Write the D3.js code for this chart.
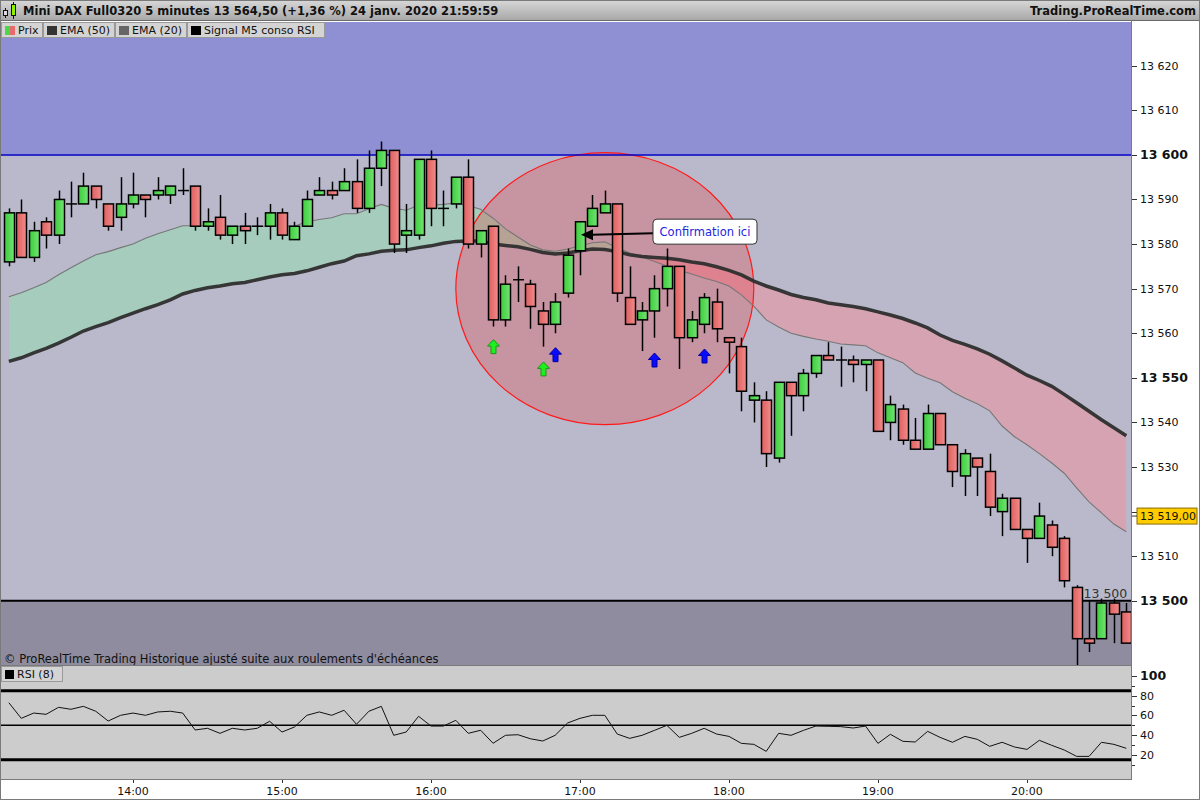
<!DOCTYPE html>
<html>
<head>
<meta charset="utf-8">
<script src="https://cdn.jsdelivr.net/npm/d3@7"></script>
<style>
  body { margin: 0; background: #fff; }
  svg { display: block; font-family: "DejaVu Sans", Verdana, sans-serif; }
</style>
</head>
<body>
<div id="chart"></div>
<script>
// ---- data ----
const startTime = new Date(2020, 0, 24, 13, 10); // first 5-minute candle

const openP = [13576,13587,13577,13585,13582,13589,13589,13593,13589,13586,
  13589,13591,13591,13591,13592,13593,13584,13586,13582,13584,
  13584,13584,13587,13581,13584,13591,13592,13592,13594,13588,
  13597,13601,13582,13582,13599,13588,13589,13595,13580,13584,
  13563,13572,13571,13565,13562,13569,13578.5,13584,13587,13589,
  13568,13563,13565,13570,13575,13559,13562,13567,13559,13557,
  13545,13545,13532,13549,13546,13551,13555,13554,13554,13553,
  13554,13540,13543,13536,13534,13542,13535,13528,13532,13529,
  13520,13523,13516,13514,13517,13514,13503,13491.5,13491.5,13499.5,
  13497.5];
const highP = [13588,13590,13585,13586,13592,13594,13596,13593,13589,13595,
  13596,13591,13595,13593,13597,13593,13588,13591,13584,13587,
  13586,13589,13588,13585,13592,13595,13594,13597,13599,13601,
  13603,13601,13589,13599,13601,13592,13595,13599,13583,13584,
  13573,13575,13572,13567,13569,13579,13585,13591,13592,13589,
  13575,13567,13573,13579,13575,13565,13569,13570,13559,13559,
  13549,13547,13549,13549,13552,13555,13558,13557,13555,13554,
  13554,13546,13544,13541,13544,13542,13535,13534,13532,13533,
  13524,13523,13516,13522,13518,13514.5,13503.5,13500,13500.5,13500.5,
  13499.5];
const lowP = [13575,13577,13576,13579,13580,13586,13589,13588,13583,13583,
  13588,13586,13590,13589,13591,13583,13583,13581,13580,13580,
  13582,13581,13581,13581,13584,13591,13590,13592,13587,13587,
  13593,13578,13578,13581,13584,13584,13588,13579,13577,13561.5,
  13561.5,13567,13561,13557,13560,13568,13573,13584,13587,13567,
  13562,13556,13559,13566,13552,13558,13560,13558,13551,13542.5,
  13540,13530,13531,13537,13542.5,13550,13554,13548,13549,13547,
  13538,13536,13535,13534,13534,13535,13525.5,13523.5,13523.5,13519,
  13514.5,13516,13508.5,13514,13510,13503,13485,13488.5,13491.5,13490.5,
  13490.5];
const closeP = [13587,13577,13583,13582,13590,13589,13593,13590,13584,13589,
  13591,13590,13592,13593,13592,13584,13585,13582,13584,13583,
  13584,13587,13582,13584,13590,13592,13591,13594,13588,13597,
  13601,13580,13583,13599,13588,13588,13595,13580,13583,13563,
  13571,13572,13566,13562,13567,13577.5,13585,13588,13589,13569,
  13562,13565,13570,13575,13559,13563,13568,13561,13558,13547,
  13546,13533,13549,13546,13551,13555,13554,13554,13553,13554,
  13538,13544,13536,13534,13542,13535,13529,13533,13530,13521,
  13523,13516,13514,13519,13512,13504.5,13491.5,13490.5,13499.5,13497,
  13490.5];

const ema50 = [13553.7,13554.5,13555.6,13556.6,13557.8,13559.1,13560.5,13561.5,13562.4,13563.5,
  13564.5,13565.5,13566.4,13567.5,13568.8,13569.6,13570.2,13570.6,13571.1,13571.4,
  13572.0,13572.6,13573.1,13573.4,13574.0,13574.8,13575.6,13576.2,13577.4,13577.8,
  13578.4,13578.6,13578.7,13579.2,13579.6,13580.2,13580.6,13580.7,13580.7,13580.0,
  13579.7,13579.4,13578.8,13578.1,13577.8,13578.0,13578.5,13578.9,13578.8,13578.3,
  13577.6,13577.2,13577.0,13576.8,13576.5,13576.0,13575.6,13574.9,13574.1,13573.1,
  13571.7,13570.6,13569.7,13568.7,13568.0,13567.5,13566.8,13566.4,13566.0,13565.5,
  13564.8,13564.1,13563.3,13562.3,13561.2,13559.6,13558.4,13557.5,13556.5,13555.3,
  13553.8,13552.2,13550.6,13549.4,13548.1,13546.3,13544.4,13542.5,13540.6,13538.8,
  13537.0];
const ema20 = [13568.2,13569.1,13570.2,13571.4,13573.1,13574.7,13576.2,13577.6,13578.3,13579.2,
  13580.0,13581.3,13582.3,13583.2,13584.1,13584.1,13584.1,13584.0,13584.0,13584.0,
  13584.0,13584.0,13584.1,13584.0,13585.0,13585.5,13585.9,13586.8,13586.8,13587.9,
  13588.9,13588.0,13587.6,13588.7,13588.7,13588.9,13589.2,13588.6,13587.8,13585.8,
  13583.4,13581.6,13579.8,13578.7,13578.4,13578.9,13579.6,13580.3,13580.5,13579.2,
  13578.0,13577.1,13576.1,13575.1,13574.1,13573.3,13572.4,13571.6,13570.6,13568.6,
  13566.1,13563.0,13561.4,13560.0,13559.3,13558.7,13558.2,13557.6,13557.4,13557.2,
  13555.6,13554.5,13553.4,13551.1,13549.9,13548.9,13546.9,13545.4,13544.2,13542.6,
  13539.2,13536.8,13535.0,13533.0,13530.9,13528.6,13525.3,13522.2,13519.7,13517.2,
  13515.5];
const rsi8 = [72.9,57.0,62.4,61.1,68.2,66.2,69.2,64.2,54.3,60.1,
  62.4,60.1,63.5,64.2,62.4,45.2,46.9,41.8,46.9,45.2,
  46.9,54.0,43.1,48.2,60.1,63.5,60.1,65.2,51.0,64.2,
  69.2,39.8,43.1,59.1,49.2,49.2,55.0,41.8,44.9,31.7,
  39.8,40.4,36.3,34.0,39.8,52.3,57.0,60.1,60.1,41.1,
  36.7,39.8,44.8,49.9,37.7,41.8,46.9,41.1,38.7,31.6,
  30.6,23.5,41.8,39.8,44.8,49.2,48.9,48.6,47.2,49.2,
  31.6,40.8,33.7,33.0,43.8,37.7,32.7,38.7,35.7,28.6,
  32.7,27.9,25.5,34.7,29.6,24.9,18.4,18.4,32.7,30.6,
  26.6];

// "Signal M5 conso RSI" arrows: candle index, colour, level
const signalIdx = [39, 43, 44, 52, 56];
const signalColor = ["green", "green", "blue", "blue", "blue"];
const signalLevel = [13557, 13552, 13555.2, 13554, 13554.9];

const priceTicks = [13500,13510,13520,13530,13540,13550,13560,13570,13580,13590,13600,13610,13620];
const priceMajor = [13500, 13550, 13600];
const rsiTicks = [20, 40, 60, 80, 100];
const rsiMinor = [10, 30, 50, 70, 90];
const rsiBands = [85, 50, 15];
const hourTicks = [14, 15, 16, 17, 18, 19, 20];

const upperLevel = 13600, lowerLevel = 13500;
const lastQuote = 13519;

const titleText = "Mini DAX Full0320 5 minutes 13 564,50 (+1,36 %) 24 janv. 2020 21:59:59";
const legendItems = ["Prix", "EMA (50)", "EMA (20)", "Signal M5 conso RSI"];

// ---- layout ----
const W = 1200, H = 800;
const plotW = 1131;
const priceTop = 22, priceBottom = 665;
const rsiTop = 666, rsiBottom = 779;

const times = openP.map((d, i) => d3.timeMinute.offset(startTime, 5 * i));
const candles = times.map((t, i) => ({ t, o: openP[i], h: highP[i], l: lowP[i], c: closeP[i] }));

const x = d3.scaleTime()
  .domain([new Date(2020, 0, 24, 13, 6, 26), new Date(2020, 0, 24, 20, 41, 54)])
  .range([0, plotW]);
const y = d3.scaleLinear().domain([13485.6, 13629.8]).range([priceBottom, priceTop]);
const yr = d3.scaleLinear().domain([0, 100]).range([774.5, 676]);

const fr = d3.formatLocale({ decimal: ",", thousands: " ", grouping: [3], currency: ["", ""] });
const fmtInt = fr.format(",d");
const fmtDec = fr.format(",.2f");

const svg = d3.select("#chart").append("svg").attr("width", W).attr("height", H);
const defs = svg.append("defs");

function grad(id, stops, vertical) {
  const g = defs.append("linearGradient").attr("id", id)
    .attr("x1", 0).attr("y1", 0).attr("x2", vertical ? 0 : 1).attr("y2", vertical ? 1 : 0);
  stops.forEach((c, i) => g.append("stop").attr("offset", i / (stops.length - 1)).attr("stop-color", c));
}
grad("gUp", ["#3ccd3c", "#74e474"]);
grad("gDn", ["#e15f5f", "#f08c8c"]);
grad("gHead", ["#d8d8d8", "#a6a6a6"], true);

defs.append("clipPath").attr("id", "clipPrice")
  .append("rect").attr("x", 0).attr("y", priceTop).attr("width", plotW).attr("height", priceBottom - priceTop);
defs.append("clipPath").attr("id", "clipRsi")
  .append("rect").attr("x", 0).attr("y", rsiTop).attr("width", plotW).attr("height", rsiBottom - rsiTop);

// page background
svg.append("rect").attr("width", W).attr("height", H).attr("fill", "#fff");

// ---- price panel ----
const pp = svg.append("g").attr("clip-path", "url(#clipPrice)");

pp.append("rect").attr("x", 0).attr("width", plotW)
  .attr("y", priceTop).attr("height", y(upperLevel) - priceTop).attr("fill", "#8f8fd3");
pp.append("rect").attr("x", 0).attr("width", plotW)
  .attr("y", y(upperLevel)).attr("height", y(lowerLevel) - y(upperLevel)).attr("fill", "#b9b9cb");
pp.append("rect").attr("x", 0).attr("width", plotW)
  .attr("y", y(lowerLevel)).attr("height", priceBottom - y(lowerLevel)).attr("fill", "#8e8c9e");

// EMA ribbon: green where EMA20 above EMA50, red below
const ribbon = d3.area().x(d => x(d.t)).y0(d => y(d.e50)).y1(d => y(d.e20));
const emaData = times.map((t, i) => ({ t, e20: ema20[i], e50: ema50[i] }));
defs.append("clipPath").attr("id", "aboveSlow")
  .append("path").attr("d", d3.area().x(d => x(d.t)).y0(priceTop).y1(d => y(d.e50))(emaData));
defs.append("clipPath").attr("id", "belowSlow")
  .append("path").attr("d", d3.area().x(d => x(d.t)).y0(priceBottom).y1(d => y(d.e50))(emaData));
pp.append("path").attr("d", ribbon(emaData)).attr("clip-path", "url(#aboveSlow)")
  .attr("fill", "rgb(130,240,160)").attr("fill-opacity", 0.35);
pp.append("path").attr("d", ribbon(emaData)).attr("clip-path", "url(#belowSlow)")
  .attr("fill", "rgb(255,130,140)").attr("fill-opacity", 0.4);

// highlighted zone (ellipse drawn around 17:10 / 13 570)
const zoneCenter = new Date(2020, 0, 24, 17, 10);
pp.append("ellipse")
  .attr("cx", x(zoneCenter))
  .attr("cy", y(13570))
  .attr("rx", x(d3.timeMinute.offset(zoneCenter, 60)) - x(zoneCenter))
  .attr("ry", y(13570) - y(13600.5))
  .attr("fill", "rgba(255,0,0,0.2)")
  .attr("stroke", "#ff1a1a").attr("stroke-width", 1.2);

// level lines
pp.append("line").attr("x1", 0).attr("x2", plotW)
  .attr("y1", y(upperLevel)).attr("y2", y(upperLevel)).attr("stroke", "#0000c8").attr("stroke-width", 1.5);
pp.append("line").attr("x1", 0).attr("x2", plotW)
  .attr("y1", y(lowerLevel)).attr("y2", y(lowerLevel)).attr("stroke", "#000").attr("stroke-width", 2);

// EMA lines
pp.append("path").datum(emaData)
  .attr("d", d3.line().x(d => x(d.t)).y(d => y(d.e20)))
  .attr("fill", "none").attr("stroke", "#777").attr("stroke-width", 1.1);
pp.append("path").datum(emaData)
  .attr("d", d3.line().x(d => x(d.t)).y(d => y(d.e50)))
  .attr("fill", "none").attr("stroke", "#2e2e2e").attr("stroke-width", 3.5).attr("stroke-opacity", 0.95);

// candles
const bw = 10;
pp.selectAll(".wick").data(candles).join("line").attr("class", "wick")
  .attr("x1", d => Math.round(x(d.t)) + 0.5).attr("x2", d => Math.round(x(d.t)) + 0.5)
  .attr("y1", d => y(d.h)).attr("y2", d => y(d.l))
  .attr("stroke", "#000").attr("stroke-width", 1.5);
pp.selectAll(".body").data(candles.filter(d => d.o !== d.c)).join("rect").attr("class", "body")
  .attr("x", d => Math.round(x(d.t)) - bw / 2 + 0.5)
  .attr("width", bw)
  .attr("y", d => y(Math.max(d.o, d.c)))
  .attr("height", d => Math.max(1, y(Math.min(d.o, d.c)) - y(Math.max(d.o, d.c))))
  .attr("fill", d => d.c > d.o ? "url(#gUp)" : "url(#gDn)")
  .attr("stroke", "#000").attr("stroke-width", 1.5);
pp.selectAll(".doji").data(candles.filter(d => d.o === d.c)).join("line").attr("class", "doji")
  .attr("x1", d => Math.round(x(d.t)) - bw / 2).attr("x2", d => Math.round(x(d.t)) + bw / 2 + 1)
  .attr("y1", d => y(d.o)).attr("y2", d => y(d.o))
  .attr("stroke", "#000").attr("stroke-width", 1.5);

// signal arrows
const arrowPath = "M0,-7 L6,-0.5 L2.5,-0.5 L2.5,7 L-2.5,7 L-2.5,-0.5 L-6,-0.5 Z";
pp.selectAll(".sig").data(signalIdx).join("path").attr("class", "sig")
  .attr("d", arrowPath)
  .attr("transform", (d, i) => `translate(${Math.round(x(times[d])) + 0.5},${y(signalLevel[i])})`)
  .attr("fill", (d, i) => signalColor[i] === "green" ? "#1ef01e" : "#0a0aff")
  .attr("stroke", (d, i) => signalColor[i] === "green" ? "#159a15" : "#0000a0")
  .attr("stroke-width", 1);

// "13 500" level label
pp.append("text").attr("x", x(times[times.length - 1]) + 1).attr("y", y(lowerLevel) - 3)
  .attr("text-anchor", "end").attr("font-size", 12.5).attr("fill", "#333").text(fmtInt(lowerLevel));

// annotation "Confirmation ici"
const tipT = times[46], tipP = 13582;
const boxX = x(tipT) + 73, boxY = y(tipP) - 16, boxW = 104, boxH = 25;
svg.append("line")
  .attr("x1", boxX).attr("y1", boxY + 14).attr("x2", x(tipT) + 12).attr("y2", y(tipP) - 0.5)
  .attr("stroke", "#000").attr("stroke-width", 2);
svg.append("path")
  .attr("d", `M${x(tipT) + 1},${y(tipP) - 0.5} L${x(tipT) + 13},${y(tipP) - 6} L${x(tipT) + 13},${y(tipP) + 5} Z`)
  .attr("fill", "#000");
svg.append("rect").attr("x", boxX).attr("y", boxY).attr("width", boxW).attr("height", boxH)
  .attr("rx", 4).attr("fill", "#fff").attr("stroke", "#333").attr("stroke-width", 1);
svg.append("text").attr("x", boxX + boxW / 2).attr("y", boxY + 17)
  .attr("text-anchor", "middle").attr("font-size", 11.5).attr("fill", "#2323e0").text("Confirmation ici");

// copyright line
svg.append("text").attr("x", 4).attr("y", 663).attr("font-size", 11.5).attr("fill", "#111")
  .text("\u00a9 ProRealTime Trading Historique ajust\u00e9 suite aux roulements d'\u00e9ch\u00e9ances");

// ---- RSI panel ----
svg.append("rect").attr("x", 0).attr("y", rsiTop).attr("width", plotW).attr("height", rsiBottom - rsiTop)
  .attr("fill", "#cccccc");
const rp = svg.append("g").attr("clip-path", "url(#clipRsi)");
rp.selectAll(".band").data(rsiBands).join("line")
  .attr("x1", 0).attr("x2", plotW).attr("y1", d => yr(d)).attr("y2", d => yr(d))
  .attr("stroke", "#000").attr("stroke-width", d => d === 50 ? 1.5 : 3);
rp.append("path").datum(rsi8)
  .attr("d", d3.line().x((d, i) => x(times[i])).y(d => yr(d)))
  .attr("fill", "none").attr("stroke", "#111").attr("stroke-width", 1);

// ---- frames ----
svg.append("line").attr("x1", 0).attr("x2", plotW).attr("y1", 665.5).attr("y2", 665.5).attr("stroke", "#7a7a7a");
svg.append("line").attr("x1", 0).attr("x2", plotW).attr("y1", 779.5).attr("y2", 779.5).attr("stroke", "#7a7a7a");
svg.append("line").attr("x1", plotW + 0.5).attr("x2", plotW + 0.5).attr("y1", 21).attr("y2", 780).attr("stroke", "#7a7a7a");

// ---- price axis ----
const pa = svg.append("g").attr("font-size", 11).attr("fill", "#111");
pa.selectAll(".pt").data(priceTicks).join("line")
  .attr("x1", plotW + 1).attr("x2", plotW + 6).attr("y1", d => Math.round(y(d)) + 0.5).attr("y2", d => Math.round(y(d)) + 0.5)
  .attr("stroke", "#333");
pa.selectAll(".pl").data(priceTicks).join("text")
  .attr("x", plotW + 9).attr("y", d => y(d) + 4)
  .attr("font-size", d => priceMajor.includes(d) ? 12.5 : 11)
  .attr("font-weight", d => priceMajor.includes(d) ? "bold" : "normal")
  .text(d => fmtInt(d));

// current quote tag (sits over the 13 520 label, as in the platform)
const qy = y(lastQuote);
svg.append("rect").attr("x", plotW + 6).attr("y", qy - 8).attr("width", 60).attr("height", 16)
  .attr("fill", "#ffcc00").attr("stroke", "#8a6d00").attr("stroke-width", 1);
svg.append("line").attr("x1", plotW + 1).attr("x2", plotW + 6).attr("y1", qy).attr("y2", qy).attr("stroke", "#333");
svg.append("text").attr("x", plotW + 9).attr("y", qy + 4).attr("font-size", 11).attr("fill", "#111")
  .text(fmtDec(lastQuote));

// ---- RSI axis ----
const ra = svg.append("g").attr("fill", "#111");
ra.selectAll(".rt").data(rsiTicks.concat(rsiMinor)).join("line")
  .attr("x1", plotW + 1).attr("x2", d => plotW + (rsiTicks.includes(d) ? 6 : 4))
  .attr("y1", d => Math.round(yr(d)) + 0.5).attr("y2", d => Math.round(yr(d)) + 0.5)
  .attr("stroke", "#333");
ra.selectAll(".rl").data(rsiTicks).join("text")
  .attr("x", plotW + 9).attr("y", d => yr(d) + 4)
  .attr("font-size", d => d === 100 ? 12.5 : 11)
  .attr("font-weight", d => d === 100 ? "bold" : "normal")
  .text(d => d);

// ---- time axis ----
const ta = svg.append("g");
const hourDates = hourTicks.map(h => new Date(2020, 0, 24, h, 0));
ta.selectAll(".tt").data(hourDates).join("line")
  .attr("x1", d => Math.round(x(d)) + 0.5).attr("x2", d => Math.round(x(d)) + 0.5)
  .attr("y1", 780).attr("y2", 783).attr("stroke", "#333");
ta.selectAll(".tl").data(hourDates).join("text")
  .attr("x", d => x(d)).attr("y", 795).attr("text-anchor", "middle")
  .attr("font-size", 11).attr("fill", "#111")
  .text(d3.timeFormat("%H:%M"));

// ---- header bar ----
svg.append("rect").attr("x", 0).attr("y", 0).attr("width", W).attr("height", 21).attr("fill", "url(#gHead)");
svg.append("line").attr("x1", 0).attr("x2", W).attr("y1", 20.5).attr("y2", 20.5).attr("stroke", "#6a6a6a");
// small candle icon
svg.append("line").attr("x1", 5.5).attr("x2", 5.5).attr("y1", 8).attr("y2", 18).attr("stroke", "#111");
svg.append("rect").attr("x", 3.5).attr("y", 10.5).attr("width", 4).attr("height", 5).attr("fill", "#ddd").attr("stroke", "#111");
svg.append("line").attr("x1", 13.5).attr("x2", 13.5).attr("y1", 2).attr("y2", 19).attr("stroke", "#111");
svg.append("rect").attr("x", 11.5).attr("y", 4.5).attr("width", 4).attr("height", 11).attr("fill", "#8cf000").attr("stroke", "#111");

svg.append("text").attr("x", 23).attr("y", 15).attr("font-size", 11.5).attr("font-weight", "bold")
  .attr("fill", "#111").text(titleText);
svg.append("text").attr("x", 1196).attr("y", 15).attr("text-anchor", "end")
  .attr("font-size", 11.5).attr("font-weight", "bold").attr("fill", "#111").text("Trading.ProRealTime.com");

// ---- legend row ----
const legX = [1, 43, 115, 187], legW = [41, 71, 71, 137];
const lg = svg.append("g");
legendItems.forEach((name, i) => {
  lg.append("rect").attr("x", legX[i] + 0.5).attr("y", 22.5).attr("width", legW[i]).attr("height", 15)
    .attr("fill", "#d4d4d4").attr("stroke", "#999");
  if (i === 0) {
    lg.append("rect").attr("x", legX[i] + 4).attr("y", 26).attr("width", 5).attr("height", 9).attr("fill", "#4cd64c");
    lg.append("rect").attr("x", legX[i] + 9).attr("y", 26).attr("width", 5).attr("height", 9).attr("fill", "#e86a6a");
  } else {
    lg.append("rect").attr("x", legX[i] + 4).attr("y", 26).attr("width", 10).attr("height", 9)
      .attr("fill", ["", "#333", "#666", "#000"][i]);
  }
  lg.append("text").attr("x", legX[i] + 17).attr("y", 34).attr("font-size", 11).attr("fill", "#111").text(name);
});
// RSI legend
svg.append("rect").attr("x", 1.5).attr("y", 666.5).attr("width", 61).attr("height", 15)
  .attr("fill", "#d4d4d4").attr("stroke", "#999");
svg.append("rect").attr("x", 5).attr("y", 670).attr("width", 9).attr("height", 9).attr("fill", "#000");
svg.append("text").attr("x", 17).attr("y", 678).attr("font-size", 11).attr("fill", "#111").text("RSI (8)");

// outer frame
svg.append("rect").attr("x", 0.5).attr("y", 0.5).attr("width", W - 1).attr("height", H - 1)
  .attr("fill", "none").attr("stroke", "#7a7a7a");
</script>
</body>
</html>
